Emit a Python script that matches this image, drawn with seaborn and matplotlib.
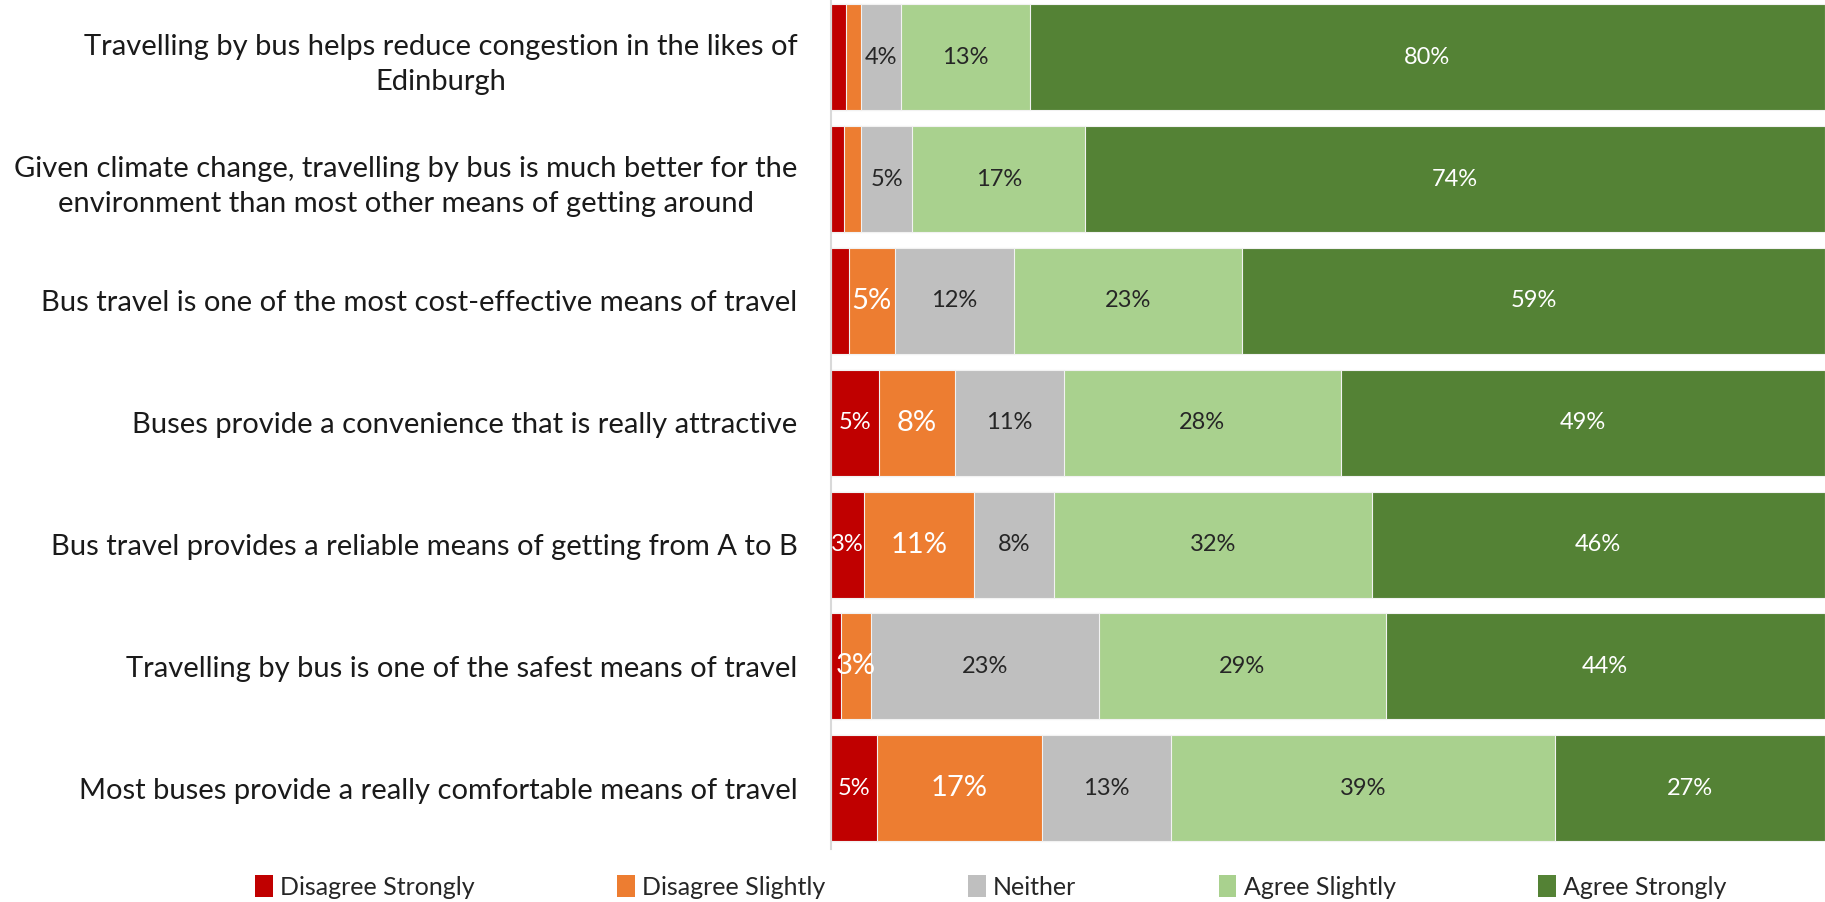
import matplotlib
matplotlib.use("Agg")
import matplotlib.pyplot as plt
import seaborn as sns
import pandas as pd
import numpy as np
from matplotlib.patches import Patch

sns.set_theme(style="white")
plt.rcParams["font.family"] = ["Liberation Sans Narrow", "Lato", "DejaVu Sans"]

statements = [
    "Travelling by bus helps reduce congestion in the likes of\nEdinburgh",
    "Given climate change, travelling by bus is much better for the\nenvironment than most other means of getting around",
    "Bus travel is one of the most cost-effective means of travel",
    "Buses provide a convenience that is really attractive",
    "Bus travel provides a reliable means of getting from A to B",
    "Travelling by bus is one of the safest means of travel",
    "Most buses provide a really comfortable means of travel",
]
responses = ["Disagree Strongly", "Disagree Slightly", "Neither", "Agree Slightly", "Agree Strongly"]

disagree_strongly = [1.5, 1.3, 1.8, 4.8, 3.3, 1.0, 4.6]
disagree_slightly = [1.5, 1.7, 4.6, 7.7, 11.1, 3.0, 16.6]
neither = [4.0, 5.2, 12.0, 10.9, 8.0, 23.0, 13.0]
agree_slightly = [13.0, 17.4, 23.0, 27.9, 32.0, 28.8, 38.6]
agree_strongly = [80.0, 74.4, 58.6, 48.7, 45.6, 44.2, 27.2]

colors = ["#C00000", "#ED7D31", "#BFBFBF", "#A9D18E", "#548235"]
label_colors = ["white", "white", "#262626", "#262626", "white"]
label_sizes = [17, 21, 17, 17, 17]

df = pd.DataFrame(
    {
        "statement": statements,
        responses[0]: disagree_strongly,
        responses[1]: disagree_slightly,
        responses[2]: neither,
        responses[3]: agree_slightly,
        responses[4]: agree_strongly,
    }
)
cum = df[responses].cumsum(axis=1)

fig = plt.figure(figsize=(18.25, 9.02), dpi=100)
ax = fig.add_axes([0.4553, 0.0588, 0.5447, 0.945])

# Stacked bars: draw cumulative totals from the outermost segment inwards
for resp, col in reversed(list(zip(responses, colors))):
    sns.barplot(
        x=cum[resp], y=df["statement"], orient="h", color=col,
        width=0.87, edgecolor="#F2F2F2", linewidth=0.8, ax=ax,
        saturation=1, order=statements,
    )

# Segment value labels
for i in range(len(df)):
    left = 0.0
    for j, resp in enumerate(responses):
        v = df.loc[i, resp]
        if v >= 2.5:
            ax.text(left + v / 2, i, f"{v:.0f}%", ha="center", va="center",
                    color=label_colors[j], fontsize=label_sizes[j])
        left += v

ax.set_xlim(0, 100)
ax.set_ylim(6.5, -0.5)
ax.set_xlabel("")
ax.set_ylabel("")
ax.set_xticks([])
ax.tick_params(axis="y", length=0, pad=24)
ax.set_yticks(range(len(statements)))
ax.set_yticklabels(statements, fontsize=21, color="#1a1a1a", ha="right",
                   multialignment="center", linespacing=1.45)
for side in ["top", "right", "bottom"]:
    ax.spines[side].set_visible(False)
ax.spines["left"].set_color("#D9D9D9")
ax.spines["left"].set_linewidth(1.5)

handles = [Patch(facecolor=c, edgecolor="none") for c in colors]
fig.legend(handles, responses, loc="center", bbox_to_anchor=(0.543, 0.017),
           ncol=5, frameon=False, fontsize=18, handlelength=0.7,
           handleheight=1.0, handletextpad=0.3, columnspacing=5.7)

fig.savefig("out.png", dpi=100)
